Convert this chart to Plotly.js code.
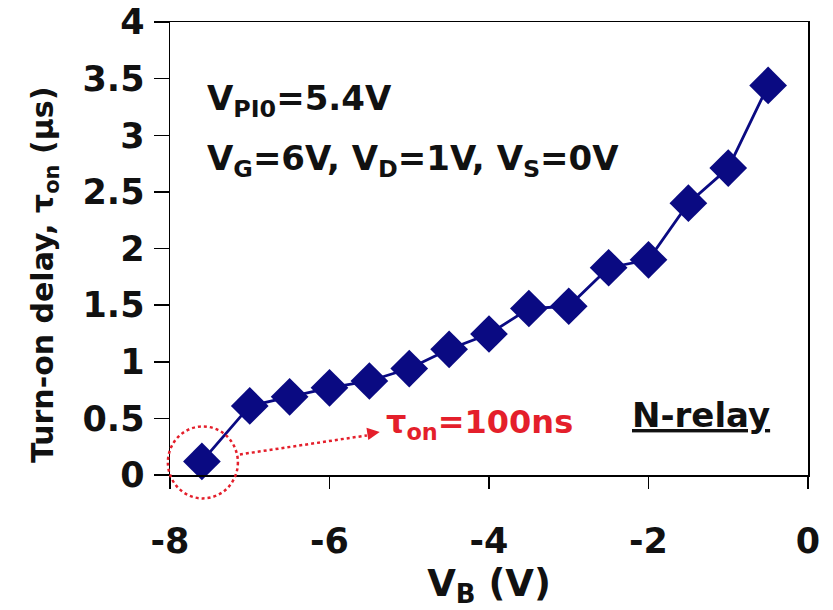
<!DOCTYPE html>
<html>
<head>
<meta charset="utf-8">
<script src="https://cdn.plot.ly/plotly-3.0.1.min.js"></script>
<style>html,body{margin:0;padding:0;background:#fff;}#chart{width:833px;height:610px;}</style>
</head>
<body>
<div id="chart"></div>
<script>
// Data
var vB = [-7.6, -7.0, -6.5, -6.0, -5.5, -5.0, -4.5, -4.0, -3.5, -3.0, -2.5, -2.0, -1.5, -1.0, -0.5];
var tauOn = [0.12, 0.61, 0.69, 0.77, 0.83, 0.94, 1.11, 1.245, 1.47, 1.49, 1.83, 1.90, 2.40, 2.71, 3.44];
var xTickVals = [-8, -6, -4, -2, 0];
var xTickText = ['-8', '-6', '-4', '-2', '0'];
var yTickVals = [0, 0.5, 1, 1.5, 2, 2.5, 3, 3.5, 4];
var yTickText = ['0', '0.5', '1', '1.5', '2', '2.5', '3', '3.5', '4'];
var xRange = [-8, 0];
var yRange = [0, 4];

var FONT = 'DejaVu Sans, Arial, sans-serif';
var NAVY = '#0a0a82';
var RED = '#e41f2b';

// paper position of the highlighted (first) point
var px0 = (vB[0] - xRange[0]) / (xRange[1] - xRange[0]);
var py0 = (tauOn[0] - yRange[0]) / (yRange[1] - yRange[0]);

var trace = {
  x: vB, y: tauOn, type: 'scatter', mode: 'lines+markers',
  line: {color: NAVY, width: 2.8},
  marker: {symbol: 'diamond', size: 29, color: NAVY},
  hoverinfo: 'none', showlegend: false, cliponaxis: false
};

var axisCommon = {
  showgrid: false, zeroline: false, showline: true, mirror: true,
  linecolor: '#000', linewidth: 1.5, ticks: 'outside', tickcolor: '#000', tickwidth: 1.5,
  tickfont: {family: FONT, size: 35, color: '#111', weight: 'bold'}
};

var plotH = 610 - 22 - 135, plotW = 833 - 170 - 25;

var layout = {
  width: 833, height: 610,
  margin: {l: 170, r: 25, t: 22, b: 135},
  paper_bgcolor: '#fff', plot_bgcolor: '#fff',
  xaxis: Object.assign({}, axisCommon, {
    range: xRange, tickmode: 'array', tickvals: xTickVals, ticktext: xTickText,
    ticklen: 12, ticklabelstandoff: 22,
    title: {text: 'V<sub>B</sub> (V)', font: {family: FONT, size: 37, color: '#111', weight: 'bold'}, standoff: 10}
  }),
  yaxis: Object.assign({}, axisCommon, {
    range: yRange, tickmode: 'array', tickvals: yTickVals, ticktext: yTickText,
    ticklen: 15, ticklabelstandoff: 2
  }),
  shapes: [
    {type: 'circle', xref: 'paper', yref: 'paper', xsizemode: 'pixel', ysizemode: 'pixel',
     xanchor: px0, yanchor: py0, x0: -34, x1: 36, y0: -37, y1: 35,
     line: {color: RED, width: 2.5, dash: 'dot'}},
    {type: 'line', xref: 'paper', yref: 'paper', xsizemode: 'pixel', ysizemode: 'pixel',
     xanchor: px0, yanchor: py0, x0: 38, x1: 165, y0: 7, y1: 26,
     line: {color: RED, width: 2.5, dash: 'dot'}}
  ],
  annotations: [
    {x: (44 - 170) / plotW, y: (475 - 275) / plotH, xref: 'paper', yref: 'paper',
     xanchor: 'center', yanchor: 'middle', showarrow: false, textangle: -90,
     text: 'Turn-on delay, τ<sub>on</sub> (µs)', font: {family: FONT, size: 30, color: '#111', weight: 'bold'}},
    {x: -7.56, y: 3.31, xref: 'x', yref: 'y', xanchor: 'left', yanchor: 'middle', showarrow: false,
     text: 'V<sub>PI0</sub>=5.4V', font: {family: FONT, size: 34, color: '#111', weight: 'bold'}},
    {x: -7.56, y: 2.78, xref: 'x', yref: 'y', xanchor: 'left', yanchor: 'middle', showarrow: false,
     text: 'V<sub>G</sub>=6V, V<sub>D</sub>=1V, V<sub>S</sub>=0V', font: {family: FONT, size: 34, color: '#111', weight: 'bold'}},
    {x: -1.34, y: 0.53, xref: 'x', yref: 'y', xanchor: 'center', yanchor: 'middle', showarrow: false,
     text: '<u>N-relay</u>', font: {family: FONT, size: 34, color: '#111', weight: 'bold'}},
    {x: -5.32, y: 0.45, xref: 'x', yref: 'y', xanchor: 'left', yanchor: 'middle', showarrow: false,
     text: 'τ<sub>on</sub>=100ns', font: {family: FONT, size: 32, color: RED, weight: 'bold'}},
    {x: -5.37, y: 0.38, xref: 'x', yref: 'y', showarrow: true, text: '',
     ax: -10, ay: 1.5, arrowhead: 2, arrowsize: 1, arrowwidth: 2.5, arrowcolor: RED}
  ]
};

Plotly.newPlot('chart', [trace], layout, {displayModeBar: false, staticPlot: true});
</script>
</body>
</html>
